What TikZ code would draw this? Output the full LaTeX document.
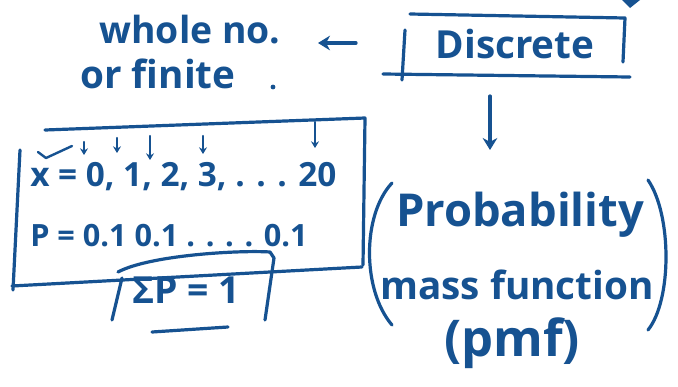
\documentclass[tikz,border=0pt]{standalone}
\usepackage{fontspec}
\setmainfont{Open Sans}
\usetikzlibrary{arrows.meta}
\definecolor{ink}{RGB}{22,82,145}
\begin{document}
\begin{tikzpicture}[x=0.75pt,y=-0.75pt,
  pen/.style={draw=ink,line width=2.4pt,line cap=round,line join=round},
  hand/.style={text=ink,inner sep=0pt,font=\bfseries#1},
  tick/.style={pen,line width=1.8pt,-{Stealth[length=5pt,width=6pt]}},
  conn/.style={pen,-{Stealth[length=9pt,width=11pt]}}]
\useasboundingbox (0,0) rectangle (678,386);
\fill[white] (0,0) rectangle (678,386);
% top-left note
\node[hand={\fontsize{28}{30}\selectfont}] (whole) at (190,30) {whole no.};
\node[hand={\fontsize{29}{30}\selectfont}] (finite) at (158,74) {or finite};
\fill[ink] (273,87) circle (2.4);
% Discrete box
\node[hand={\fontsize{29}{32}\selectfont}] (disc) at (515,44) {Discrete};
\draw[pen] (410,14) -- (625,18) -- (623,62);
\draw[pen] (405,30) -- (402,80);
\draw[pen] (383,74) -- (630,77);
\fill[ink] (622,0) -- (640,0) -- (630,8) -- cycle;
% arrows
\coordinate (wa) at (318,43);
\coordinate (da) at (356,43);
\draw[conn] (da) -- (wa);
\coordinate (ds) at (490,96);
\node[hand={\fontsize{34}{38}\selectfont}] (prob) at (520,215) {Probability};
\draw[conn] (ds) -- (490,150);
% pmf text
\node[hand={\fontsize{29}{32}\selectfont}] (mass) at (517,285) {mass function};
\node[hand={\fontsize{38}{42}\selectfont}] (pmf) at (512,343) {(pmf)};
\draw[pen] (392,183) .. controls (362,215) and (362,290) .. (392,325);
\draw[pen] (648,180) .. controls (672,215) and (672,300) .. (648,330);
% left box
\draw[pen] (45,130) -- (365,118) -- (363,265);
\draw[pen] (20,150) -- (13,290);
\draw[pen] (12,286) -- (362,267);
\node[hand={\fontsize{25}{28}\selectfont},anchor=west] (xline) at (30,177) {x = 0, 1, 2, 3, . . . 20};
\node[hand={\fontsize{23}{26}\selectfont},anchor=west] (pline) at (30,236) {P = 0.1 0.1 . . . . 0.1};
% small arrows above x values
\draw[pen,line width=1.8pt] (38,152) -- (46,158) -- (72,146);
\draw[tick] (84,142) -- (84,155);
\draw[tick] (117,138) -- (117,153);
\draw[tick] (150,136) -- (150,160);
\draw[tick] (203,136) -- (203,154);
\draw[tick] (315,122) -- (315,148);
% sum box
\node[hand={\fontsize{28}{32}\selectfont}] (sum) at (186,290) {ΣP = 1};
\draw[pen] (118,272) .. controls (150,255) and (240,250) .. (270,252) -- (274,258) -- (265,320);
\draw[pen] (122,278) -- (112,320);
\draw[pen] (152,332) -- (228,327);
\end{tikzpicture}
\end{document}
